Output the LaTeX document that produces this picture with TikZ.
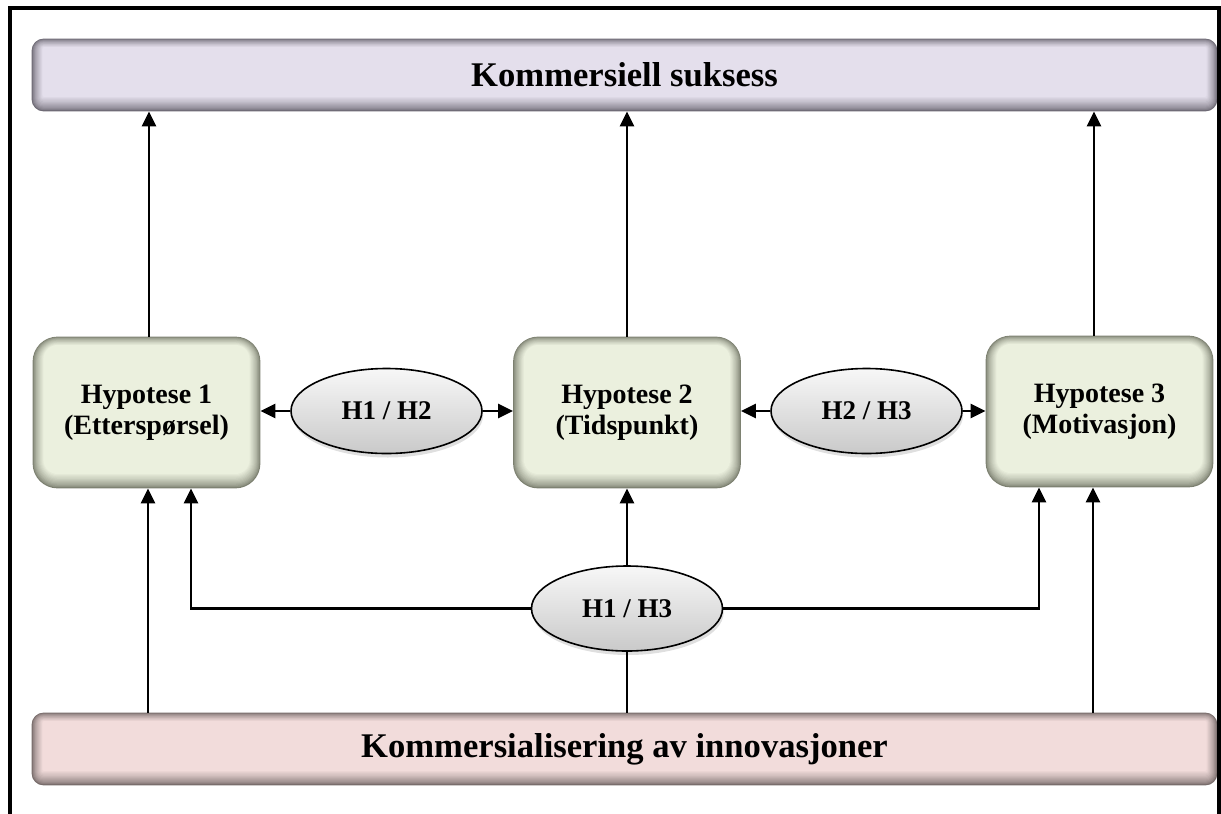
\documentclass[tikz,border=0pt]{standalone}
\usepackage{fontspec}
\setmainfont{Liberation Serif}
\usetikzlibrary{arrows.meta,calc,shapes.geometric,shadows,backgrounds}

\definecolor{topface}{HTML}{E4DFEC}
\definecolor{toprim}{HTML}{6E6A75}
\definecolor{botface}{HTML}{F2DCDB}
\definecolor{botrim}{HTML}{776B6A}
\definecolor{hypface}{HTML}{EBF0DE}
\definecolor{hyprim}{HTML}{7C8070}

\newcommand{\softedge}[4]{% soft dark rim inside node #1: rim colour #2, face colour #3, corner radius #4 (pt)
  \begin{scope}[on background layer]
    \foreach \k in {0,...,12}{
      \pgfmathtruncatemacro{\mixk}{100*(\k/12)^0.7}
      \pgfmathsetmacro{\rk}{max(#4-0.45*\k,1)}
      \fill[#3!\mixk!#2, rounded corners=\rk pt]
        ($(#1.south west)+({0.45*\k*1pt},{0.6*\k*1pt})$) rectangle
        ($(#1.north east)-({0.45*\k*1pt},{0.35*\k*1pt})$);
    }
  \end{scope}
}

\tikzset{
  barbox/.style={rectangle, minimum width=592.5pt, minimum height=36pt, inner sep=0pt,
    font=\fontsize{17.3}{20}\selectfont\bfseries},
  hypbox/.style={rectangle, minimum width=113.5pt, minimum height=75.5pt, align=center,
    font=\fontsize{14}{15.5}\selectfont\bfseries},
  hypell/.style={ellipse, draw=black, line width=0.8pt, top color=gray!6, bottom color=gray!42,
    minimum width=95.5pt, minimum height=42.5pt, inner sep=0pt,
    font=\fontsize{13.5}{15}\selectfont\bfseries,
    drop shadow={shadow xshift=0.6pt, shadow yshift=-2pt, opacity=0.25}},
  arr/.style={-{Triangle[length=7.5pt,width=7pt]}, line width=1.2pt},
  wire/.style={line width=1.2pt}
}

\begin{document}
\begin{tikzpicture}[x=0.5pt,y=-0.5pt]
  \useasboundingbox (0,0) rectangle (1221,814);
  \draw[line width=1.6pt] (10,814) -- (10,8) -- (1219,8) -- (1219,814);

  % bars
  \node[barbox] (top) at (624.5,75) {Kommersiell suksess};
  \node[barbox] (bot) at (624.5,749) {Kommersialisering av innovasjoner};
  \softedge{top}{toprim}{topface}{6}
  \softedge{bot}{botrim}{botface}{6}

  % hypotheses
  \node[hypbox] (h1) at (146.5,412.5) {Hypotese 1\\(Etterspørsel)};
  \node[hypbox] (h2) at (627,412.5) {Hypotese 2\\(Tidspunkt)};
  \node[hypbox] (h3) at (1099.5,411.5) {Hypotese 3\\(Motivasjon)};
  \softedge{h1}{hyprim}{hypface}{12.5}
  \softedge{h2}{hyprim}{hypface}{12.5}
  \softedge{h3}{hyprim}{hypface}{12.5}

  \node[hypell] (e12) at (386.5,411) {H1 / H2};
  \node[hypell] (e23) at (866.5,411) {H2 / H3};
  \node[hypell] (e13) at (627,608.5) {H1 / H3};

  % up to the top bar
  \draw[arr] ([xshift=1.25pt]h1.north) -- ([xshift=1.25pt]h1.north |- top.south);
  \draw[arr] (h2.north) -- (h2.north |- top.south);
  \draw[arr] ([xshift=-2.75pt]h3.north) -- ([xshift=-2.75pt]h3.north |- top.south);

  % between hypotheses
  \draw[arr] (e12.west) -- (e12.west -| h1.east);
  \draw[arr] (e12.east) -- (e12.east -| h2.west);
  \draw[arr] (e23.west) -- (e23.west -| h2.east);
  \draw[arr] (e23.east) -- (e23.east -| h3.west);

  % from the bottom bar
  \draw[wire] (e13.south |- bot.north) -- (e13.south);
  \draw[arr] (e13.north) -- (e13.north |- h2.south);
  \draw[arr] (e13.west) -| ([xshift=22.25pt]h1.south);
  \draw[arr] (e13.east) -| ([xshift=-30.25pt]h3.south);
  \draw[arr] ([xshift=0.75pt]h1.south |- bot.north) -- ([xshift=0.75pt]h1.south);
  \draw[arr] ([xshift=-3.25pt]h3.south |- bot.north) -- ([xshift=-3.25pt]h3.south);
\end{tikzpicture}
\end{document}
